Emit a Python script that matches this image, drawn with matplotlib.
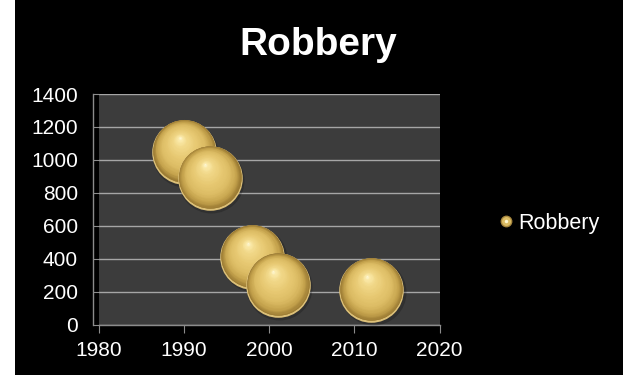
import matplotlib
matplotlib.use("Agg")
import matplotlib.pyplot as plt
import matplotlib.transforms as mtransforms
from matplotlib.colors import LinearSegmentedColormap
from matplotlib.lines import Line2D
from matplotlib.legend_handler import HandlerTuple
from matplotlib.patches import Rectangle

# data
years = [1990, 1993, 1998, 2001, 2012]
robbery = [1050, 890, 410, 240, 210]
bubble_size = [1, 1, 1, 1, 1]
series_name = "Robbery"
x_ticks = [1980, 1990, 2000, 2010, 2020]
y_ticks = [0, 200, 400, 600, 800, 1000, 1200, 1400]

plt.rcParams['font.family'] = ['Liberation Sans', 'DejaVu Sans']

fig = plt.figure(figsize=(6.23, 3.75), dpi=100, facecolor='black')
fig.patches.append(Rectangle((0, 0), 15 / 623, 1, transform=fig.transFigure,
                             facecolor='white', edgecolor='none', zorder=0))

ax = fig.add_axes([0.1586, 0.1341, 0.547, 0.6152])
ax.set_facecolor('#3c3c3c')

# gold sphere shading, outer edge -> highlight
gold = LinearSegmentedColormap.from_list('gold', [
    (0.0, '#9c7c34'), (0.12, '#c4a24c'), (0.3, '#dcbc64'),
    (0.55, '#e8ca74'), (0.78, '#f2d98a'), (0.92, '#fbeaaa'), (1.0, '#fffbe0')])

D = 46.5  # sphere diameter in points
R = D / 2
hx, hy = -0.14 * R, 0.40 * R
N = 50

for x, y, b in zip(years, robbery, bubble_size):
    d = D * b
    # faint shadow
    tr = mtransforms.offset_copy(ax.transData, fig=fig, x=1, y=-1.5, units='points')
    ax.scatter([x], [y], s=(d + 1) ** 2, color='black', alpha=0.2,
               linewidths=0, transform=tr, zorder=3)
    # bottom rim reflection
    ax.scatter([x], [y], s=d ** 2, color='#dcc078', linewidths=0, zorder=3)
    tr = mtransforms.offset_copy(ax.transData, fig=fig, x=0, y=0.8, units='points')
    ax.scatter([x], [y], s=(d * 0.965) ** 2, color='#9c7c34', linewidths=0,
               transform=tr, zorder=3)
    for k in range(N):
        t = k / N
        dd = d * 0.965 * (1 - t)
        tr = mtransforms.offset_copy(ax.transData, fig=fig,
                                     x=hx * t * b, y=0.8 + hy * t * b,
                                     units='points')
        ax.scatter([x], [y], s=dd ** 2, color=gold(t), linewidths=0,
                   transform=tr, zorder=3)

ax.set_xlim(1980, 2020)
ax.set_ylim(0, 1400)
ax.set_xticks(x_ticks)
ax.set_yticks(y_ticks)
ax.grid(axis='y', color='#a6a6a6', linewidth=1)
ax.set_axisbelow(True)

for side in ['top', 'right']:
    ax.spines[side].set_visible(False)
ax.spines['left'].set_position(('outward', 4))
for side in ['left', 'bottom']:
    ax.spines[side].set_color('#8c8c8c')
    ax.spines[side].set_linewidth(1)

ax.tick_params(axis='y', direction='in', length=4, color='#8c8c8c',
               labelcolor='white', labelsize=15, pad=11)
ax.tick_params(axis='x', direction='out', length=6, color='#8c8c8c',
               labelcolor='white', labelsize=15, pad=6)

fig.text(318 / 623, 1 - 55 / 375, 'Robbery', ha='center', va='baseline',
         fontsize=28, fontweight='bold', color='white')

handle = (Line2D([], [], marker='o', linestyle='', markersize=8.5,
                 markerfacecolor='#a8883f', markeredgewidth=0),
          Line2D([], [], marker='o', linestyle='', markersize=6.5,
                 markerfacecolor='#dcbc64', markeredgewidth=0),
          Line2D([], [], marker='o', linestyle='', markersize=2.5,
                 markerfacecolor='#fff8d0', markeredgewidth=0))
fig.legend([handle], [series_name], handler_map={tuple: HandlerTuple(ndivide=1)},
           loc='center left', bbox_to_anchor=(478 / 623, 1 - 223 / 375),
           frameon=False, labelcolor='white', fontsize=15.5,
           handlelength=0.8, handletextpad=0.15)

fig.savefig('out.png', dpi=100, facecolor=fig.get_facecolor())
